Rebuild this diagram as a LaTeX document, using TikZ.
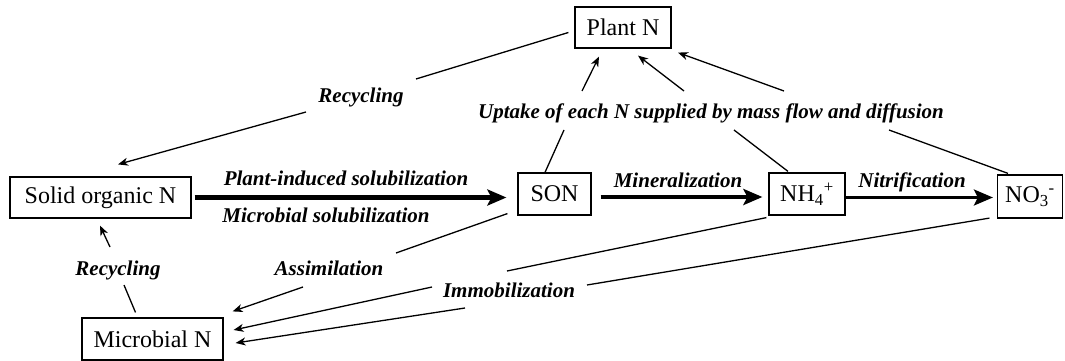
\documentclass[tikz,border=0pt]{standalone}
\usepackage{fontspec}
\setmainfont{Liberation Serif}
\usetikzlibrary{arrows.meta,calc}
\begin{document}
\begin{tikzpicture}[x=1pt,y=-1pt,
  box/.style={draw,line width=1.2pt,inner sep=0pt,font=\fontsize{24}{28}\selectfont},
  lbl/.style={inner sep=0pt,anchor=base,font=\fontsize{21}{24}\selectfont\bfseries\itshape},
  conn/.style={line width=1.3pt},
  tip/.style={conn,-{Stealth[length=10pt,width=8pt,inset=3pt]}},
  bigarrow/.style={line width=#1,-{Stealth[length=19pt,width=16pt,inset=4pt]}}
]
\useasboundingbox[fill=white] (0,0) rectangle (1065,361);
% nodes
\node[box,minimum width=96pt,minimum height=41pt] (plant) at (623,27.5) {Plant N};
\node[box,minimum width=181pt,minimum height=41pt] (solid) at (100.5,197.5) {Solid organic N};
\node[box,minimum width=73pt,minimum height=42pt] (son) at (554.5,194) {SON};
\node[box,minimum width=76pt,minimum height=42pt] (nh) at (807,194) {NH\textsubscript{4}\textsuperscript{+}};
\node[box,minimum width=65pt,minimum height=43pt] (no) at (1030,196.5) {NO\textsubscript{3}\textsuperscript{-}};
\node[box,minimum width=141pt,minimum height=42pt] (mic) at (152.5,339) {Microbial N};
% labels
\node[lbl] (lrec1) at (361,102) {Recycling};
\node[lbl] (lupt) at (711,118) {Uptake of each N supplied by mass flow and diffusion};
\node[lbl] (lpis) at (346,185) {Plant-induced solubilization};
\node[lbl] (lms) at (326,222) {Microbial solubilization};
\node[lbl] (lmin) at (678,187) {Mineralization};
\node[lbl] (lnit) at (912,187) {Nitrification};
\node[lbl] (lrec2) at (118,275) {Recycling};
\node[lbl] (lass) at (329,275) {Assimilation};
\node[lbl] (limm) at (509,297) {Immobilization};
% gap coordinates
\coordinate (r1a) at (416,79);  \coordinate (r1b) at (306,112);
\coordinate (u1a) at (564,130); \coordinate (u1b) at (582,91);
\coordinate (u2a) at (734,130); \coordinate (u2b) at (684,91);
\coordinate (u3a) at (889,130); \coordinate (u3b) at (784,91);
\coordinate (r2a) at (124,285); \coordinate (r2b) at (110,247);
\coordinate (aa) at (396,253);  \coordinate (ab) at (303,287);
\coordinate (i1a) at (507,271); \coordinate (i1b) at (432,287);
\coordinate (i2a) at (587,285); \coordinate (i2b) at (465,308);
% recycling (top)
\draw[conn] ($(plant.west)+(-6,5)$) -- (r1a);
\draw[tip] (r1b) -- ($(solid.north)+(17.5,-12)$);
% uptake
\draw[conn] ($(son.north)+(-9.5,0)$) -- (u1a);
\draw[tip] (u1b) -- ($(plant.south)+(-24,8)$);
\draw[conn] ($(nh.north)+(-19,-1)$) -- (u2a);
\draw[tip] (u2b) -- ($(plant.south)+(15,7)$);
\draw[conn] ($(no.north)+(-22,-1)$) -- (u3a);
\draw[tip] (u3b) -- ($(plant.south)+(55,4)$);
% main chain
\draw[bigarrow=5pt] ($(solid.east)+(3,0)$) -- ($(son.west)+(-11,3.5)$);
\draw[bigarrow=4pt] ($(son.east)+(9,3)$) -- ($(nh.west)+(-6,3)$);
\draw[bigarrow=3pt] ($(nh.east)+(0,3.5)$) -- ($(no.west)+(-4,1)$);
% recycling (bottom)
\draw[conn] ($(mic.north)+(-17,-5)$) -- (r2a);
\draw[tip] (r2b) -- ($(solid.south)+(-0.5,7)$);
% assimilation
\draw[conn] ($(son.south west)+(-10,-2)$) -- (aa);
\draw[tip] (ab) -- ($(mic.north east)+(9,-6)$);
% immobilization
\draw[conn] ($(nh.south west)+(-2,2)$) -- (i1a);
\draw[tip] (i1b) -- ($(mic.east)+(10,-9)$);
\draw[conn] ($(no.south west)+(-7.5,-0.5)$) -- (i2a);
\draw[tip] (i2b) -- ($(mic.east)+(12,4)$);
\end{tikzpicture}
\end{document}
